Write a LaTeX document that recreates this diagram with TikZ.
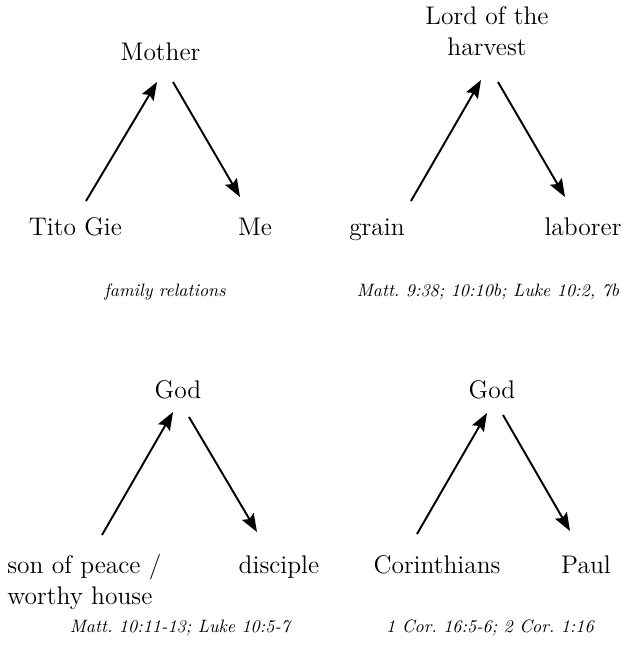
\documentclass[tikz,border=0pt]{standalone}
\usepackage{amsmath}
\usepackage{tikz}
\usetikzlibrary{arrows.meta}

\begin{document}
\frenchspacing
\begin{tikzpicture}[
    lbl/.style={anchor=base, inner sep=0pt, font=\fontsize{14.5}{17.5}\selectfont},
    cite/.style={inner sep=0pt, font=\fontsize{10.2}{12}\selectfont\itshape},
    arr/.style={line width=1.1pt, -{Stealth[length=0.36cm, width=0.27cm, inset=0.06cm]}}
  ]
    \useasboundingbox (0,0) rectangle (12.68,-13.38);

    % Top left: family
    \node[lbl] (mother) at (3.21,-1.2) {Mother};
    \node[lbl] (tito) at (1.51,-4.7) {Tito Gie};
    \node[lbl] (me) at (5.1,-4.7) {Me};
    \node[cite] (fam) at (3.3,-5.84) {family relations};

    \draw[arr] ([shift={(0.21,0.68)}]tito.base) -- ([shift={(-0.07,-0.44)}]mother.base);
    \draw[arr] ([shift={(0.25,-0.44)}]mother.base) -- ([shift={(-0.3,0.76)}]me.base);

    % Top right: harvest
    \node[lbl, anchor=south, align=center] (lord) at (9.74,-1.12) {Lord of the\\harvest};
    \node[lbl] (grain) at (7.54,-4.7) {grain};
    \node[lbl] (laborer) at (11.66,-4.7) {laborer};
    \node[cite] (harvref) at (9.76,-5.84) {Matt. 9:38; 10:10b; Luke 10:2, 7b};

    \draw[arr] ([shift={(0.68,0.68)}]grain.base) -- ([shift={(-0.12,-0.48)}]lord.south);
    \draw[arr] ([shift={(0.22,-0.52)}]lord.south) -- ([shift={(-0.36,0.76)}]laborer.base);

    % Bottom left: son of peace
    \node[lbl] (god1) at (3.56,-7.96) {God};
    \node[lbl, anchor=north west, align=left] (peace) at (0.14,-11.08) {son of peace /\\worthy house};
    \node[lbl] (disciple) at (5.58,-11.46) {disciple};
    \node[cite] (peaceref) at (3.6,-12.56) {Matt. 10:11-13; Luke 10:5-7};

    \draw[arr] ([shift={(1.9,0.38)}]peace.north west) -- ([shift={(-0.1,-0.28)}]god1.base);
    \draw[arr] ([shift={(0.22,-0.38)}]god1.base) -- ([shift={(-0.44,0.82)}]disciple.base);

    % Bottom right: Corinthians
    \node[lbl] (god2) at (9.84,-7.96) {God};
    \node[lbl] (cor) at (8.74,-11.46) {Corinthians};
    \node[lbl] (paul) at (11.72,-11.46) {Paul};
    \node[cite] (corref) at (9.8,-12.56) {1 Cor. 16:5-6; 2 Cor. 1:16};

    \draw[arr] ([shift={(-0.4,0.78)}]cor.base) -- ([shift={(-0.1,-0.3)}]god2.base);
    \draw[arr] ([shift={(0.22,-0.34)}]god2.base) -- ([shift={(-0.32,0.84)}]paul.base);
\end{tikzpicture}
\end{document}
